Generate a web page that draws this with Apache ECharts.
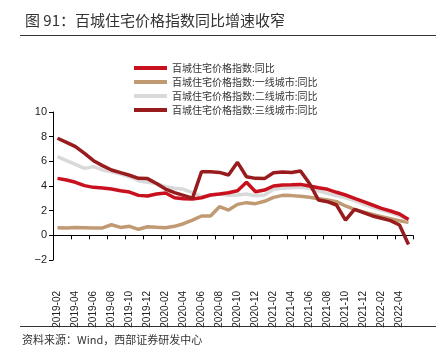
<!DOCTYPE html>
<html><head><meta charset="utf-8">
<script src="https://cdn.jsdelivr.net/npm/echarts@6/dist/echarts.min.js"></script>
<style>html,body{margin:0;padding:0;background:#fff}#c{width:444px;height:362px}</style>
</head><body><div id="c"></div>
<script>
const months = ['2019-02','2019-03','2019-04','2019-05','2019-06','2019-07','2019-08','2019-09','2019-10','2019-11','2019-12',
'2020-01','2020-02','2020-03','2020-04','2020-05','2020-06','2020-07','2020-08','2020-09','2020-10','2020-11','2020-12',
'2021-01','2021-02','2021-03','2021-04','2021-05','2021-06','2021-07','2021-08','2021-09','2021-10','2021-11','2021-12',
'2022-01','2022-02','2022-03','2022-04','2022-05'];
const names = ['百城住宅价格指数:同比','百城住宅价格指数:一线城市:同比','百城住宅价格指数:二线城市:同比','百城住宅价格指数:三线城市:同比'];
const hundred = [4.62,4.49,4.30,4.03,3.89,3.84,3.75,3.62,3.51,3.24,3.19,3.35,3.43,3.05,2.97,2.95,3.05,3.27,3.35,3.45,3.62,4.30,3.54,3.67,4.00,4.08,4.10,4.13,4.00,3.86,3.73,3.49,3.27,3.00,2.73,2.46,2.19,1.97,1.73,1.28];
const tier1 = [0.62,0.59,0.64,0.62,0.59,0.60,0.86,0.64,0.73,0.49,0.70,0.65,0.62,0.73,0.94,1.24,1.57,1.57,2.32,2.05,2.51,2.65,2.57,2.76,3.08,3.24,3.22,3.16,3.08,2.97,2.86,2.73,2.38,2.10,1.89,1.70,1.51,1.35,1.19,1.05];
const tier2 = [6.38,6.05,5.76,5.43,5.57,5.30,5.16,4.97,4.75,4.43,4.30,4.20,3.94,3.81,3.73,3.46,3.13,3.27,3.35,3.24,3.27,3.35,3.21,3.27,3.73,3.81,3.86,3.89,3.81,3.59,3.40,3.21,3.05,2.81,2.54,2.27,2.05,1.84,1.59,1.22];
const tier3 = [7.87,7.54,7.19,6.65,6.05,5.65,5.30,5.08,4.87,4.62,4.60,4.20,3.75,3.46,3.24,3.02,5.16,5.16,5.10,4.89,5.92,4.75,4.62,4.60,5.08,5.13,5.10,5.21,4.20,2.86,2.73,2.46,1.24,2.10,1.84,1.57,1.38,1.19,0.84,-0.75];
const yTicks = [-2,0,2,4,6,8,10];

const colors = ['#C8101E','#C09A72','#D9D9D9','#981B1E'];
const chart = echarts.init(document.getElementById('c'));
const mk = (i, data, z) => ({
  name: names[i], type: 'line', data: data, symbol: 'none', z: z,
  lineStyle: {width: 3.5, color: colors[i]}, itemStyle: {color: colors[i]}
});
chart.setOption({
  animation: false,
  title: {text: '图 91：百城住宅价格指数同比增速收窄', left: 20, top: 8,
    textStyle: {fontSize: 15, fontWeight: 'normal', color: '#333', fontFamily: 'Noto Sans CJK SC'}},
  legend: {orient: 'vertical', left: 129, top: 57, itemWidth: 33, itemHeight: 4, itemGap: 2,
    icon: 'rect', data: names,
    textStyle: {fontSize: 10, color: '#333', lineHeight: 12, fontFamily: 'Noto Sans CJK SC'}},
  grid: {left: 53, right: 31, top: 112, bottom: 102, containLabel: false},
  xAxis: {type: 'category', data: months, boundaryGap: true,
    axisLine: {onZero: true, lineStyle: {color: '#000', width: 1}},
    axisTick: {show: true, interval: 1, length: 4, inside: false, lineStyle: {color: '#000'}},
    axisLabel: {interval: 1, rotate: 90, margin: 31, fontSize: 10, color: '#222', fontFamily: 'Liberation Sans'},
    splitLine: {show: false}},
  yAxis: {type: 'value', min: -2, max: 10, interval: 2,
    axisLine: {show: true, lineStyle: {color: '#000', width: 1}},
    axisTick: {show: true, length: 4, lineStyle: {color: '#000'}},
    axisLabel: {fontSize: 11, color: '#222', margin: 6, fontFamily: 'Liberation Sans',
      formatter: v => yTicks.includes(v) ? (v < 0 ? '−' + Math.abs(v) : String(v)) : ''},
    splitLine: {show: false}},
  graphic: [
    {type: 'line', shape: {x1: 20, y1: 35.5, x2: 436, y2: 35.5}, style: {stroke: '#333', lineWidth: 1}},
    {type: 'line', shape: {x1: 20, y1: 326.5, x2: 436, y2: 326.5}, style: {stroke: '#333', lineWidth: 1}},
    {type: 'text', left: 22, top: 334, style: {text: '资料来源：Wind，西部证券研发中心', fontSize: 11, fill: '#333', fontFamily: 'Noto Sans CJK SC'}}
  ],
  series: [mk(1, tier1, 2), mk(2, tier2, 3), mk(0, hundred, 4), mk(3, tier3, 5)]
});
</script></body></html>
